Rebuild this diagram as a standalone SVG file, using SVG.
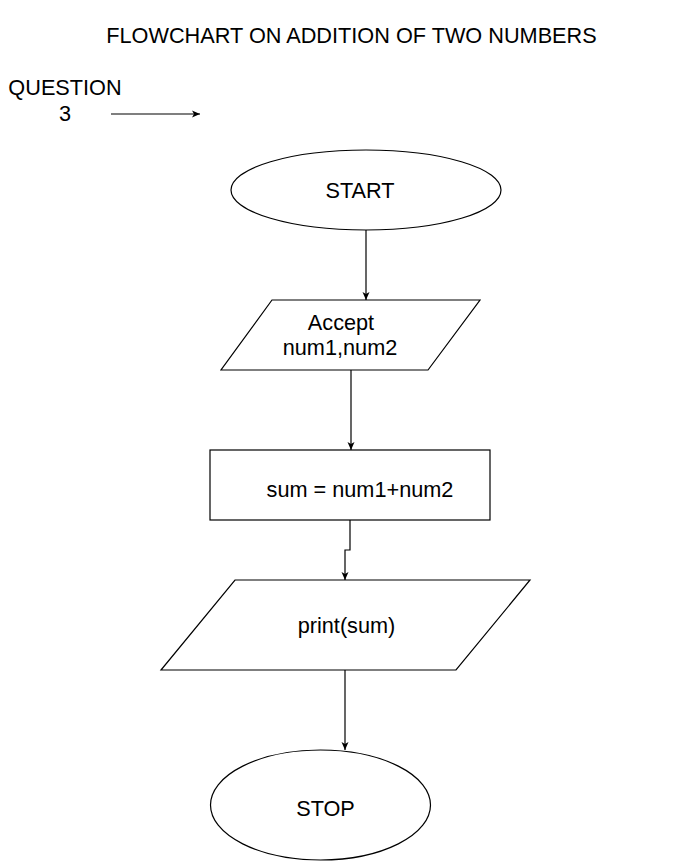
<svg xmlns="http://www.w3.org/2000/svg" width="691" height="861" viewBox="0 0 691 861">
<defs>
<marker id="arr" markerUnits="userSpaceOnUse" markerWidth="10" markerHeight="10" viewBox="0 0 10 10" refX="9" refY="5" orient="auto">
<path d="M1,1.5 L9,5 L1,8.5 L3,5 Z" fill="#000"/>
</marker>
<style>
.t{font-family:"Liberation Sans",Arial,sans-serif;font-size:21.7px;fill:#000;text-anchor:middle}
.s{fill:#fff;stroke:#000;stroke-width:1.2}
.c{fill:none;stroke:#000;stroke-width:1.2;marker-end:url(#arr)}
</style>
</defs>
<rect width="691" height="861" fill="#fff"/>
<text class="t" x="351.5" y="43">FLOWCHART ON ADDITION OF TWO NUMBERS</text>
<text class="t" x="65" y="95">QUESTION</text>
<text class="t" x="65" y="121">3</text>
<g id="connectors">
<path class="c" d="M111 114 L200 114"/>
<path class="c" d="M366 230 L366 300"/>
<path class="c" d="M351 370 L351 450"/>
<path class="c" d="M350 520 L350 550 L345 550 L345 580"/>
<path class="c" d="M345 670 L345 750"/>
</g>
<g id="start">
<ellipse class="s" cx="366" cy="190" rx="135" ry="40"/>
<text class="t" x="360" y="198">START</text>
</g>
<g id="accept">
<polygon class="s" points="272,300 480,300 428,370 221,370"/>
<text class="t" x="341" y="330">Accept</text>
<text class="t" x="340" y="355">num1,num2</text>
</g>
<g id="sum">
<rect class="s" x="210" y="450" width="280" height="70"/>
<text class="t" x="360" y="497">sum = num1+num2</text>
</g>
<g id="print">
<polygon class="s" points="235,580 530,580 456,670 161,670"/>
<text class="t" x="346.5" y="633">print(sum)</text>
</g>
<g id="stop">
<ellipse class="s" cx="320.5" cy="805" rx="110" ry="55"/>
<text class="t" x="325.5" y="816">STOP</text>
</g>
</svg>
